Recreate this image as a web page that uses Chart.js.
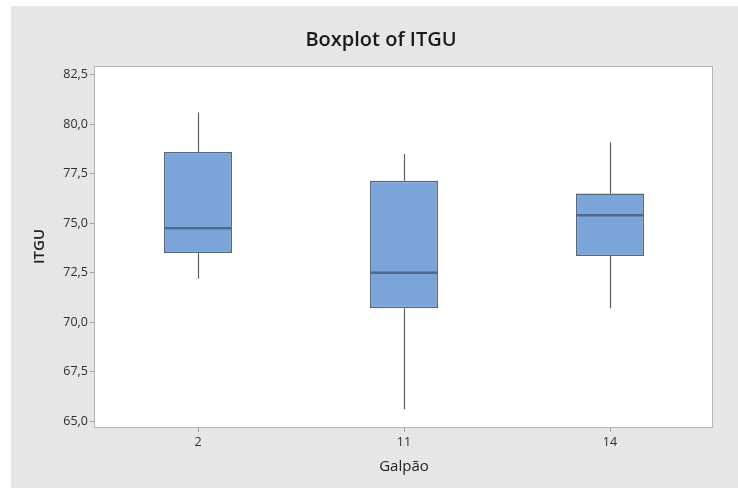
<!DOCTYPE html>
<html>
<head>
<meta charset="utf-8">
<script src="https://cdn.jsdelivr.net/npm/chart.js@4"></script>
<style>
  html, body { margin: 0; padding: 0; background: #ffffff; }
  #wrap { width: 738px; height: 488px; position: relative; }
</style>
</head>
<body>
<div id="wrap"><canvas id="c" width="738" height="488"></canvas></div>
<script>
// ITGU boxplot per galpão (shed)
const categories = ['2', '11', '14'];
const whiskerLow = [72.2, 65.6, 70.7];
const q1Values = [73.5, 70.7, 73.35];
const medianValues = [74.75, 72.5, 75.4];
const q3Values = [78.6, 77.15, 76.5];
const whiskerHigh = [80.6, 78.5, 79.1];
const yTickValues = [65, 67.5, 70, 72.5, 75, 77.5, 80, 82.5];

const boxFill = '#7ba4d9';
const boxEdge = '#56667c';
const medianColor = '#4f6a8e';
const whiskerColor = '#5f5f5f';
const frameColor = '#b4b4b4';

const fmt = v => v.toFixed(1).replace('.', ',');

// Page background: white border strip, gray panel, white data region with frame
const backdrop = {
  id: 'backdrop',
  beforeDraw(chart) {
    const ctx = chart.ctx;
    const a = chart.chartArea;
    ctx.save();
    ctx.fillStyle = '#ffffff';
    ctx.fillRect(0, 0, chart.width, chart.height);
    ctx.fillStyle = '#e6e6e6';
    ctx.fillRect(11, 6, chart.width - 11, chart.height - 6);
    ctx.fillStyle = '#ffffff';
    ctx.fillRect(a.left, a.top, a.right - a.left, a.bottom - a.top);
    ctx.restore();
  },
  afterDraw(chart) {
    const ctx = chart.ctx;
    const a = chart.chartArea;
    ctx.save();
    ctx.strokeStyle = frameColor;
    ctx.lineWidth = 1;
    ctx.strokeRect(Math.round(a.left) - 0.5, Math.round(a.top) + 0.5,
                   Math.round(a.right - a.left), Math.round(a.bottom - a.top));
    ctx.restore();
  }
};

// Whiskers and median lines, positioned through the chart scales
const boxParts = {
  id: 'boxParts',
  afterDatasetsDraw(chart) {
    const ctx = chart.ctx;
    const y = chart.scales.y;
    const meta = chart.getDatasetMeta(0);
    ctx.save();
    meta.data.forEach((bar, i) => {
      const cx = Math.round(bar.x) + 0.5;
      const half = bar.width / 2;
      const yQ1 = y.getPixelForValue(q1Values[i]);
      const yQ3 = y.getPixelForValue(q3Values[i]);
      ctx.strokeStyle = whiskerColor;
      ctx.lineWidth = 1.2;
      ctx.beginPath();
      ctx.moveTo(cx, yQ3);
      ctx.lineTo(cx, y.getPixelForValue(whiskerHigh[i]));
      ctx.moveTo(cx, yQ1);
      ctx.lineTo(cx, y.getPixelForValue(whiskerLow[i]));
      ctx.stroke();
      ctx.strokeStyle = medianColor;
      ctx.lineWidth = 2.5;
      const ym = y.getPixelForValue(medianValues[i]);
      ctx.beginPath();
      ctx.moveTo(bar.x - half, ym);
      ctx.lineTo(bar.x + half, ym);
      ctx.stroke();
    });
    ctx.restore();
  }
};

new Chart(document.getElementById('c'), {
  type: 'bar',
  data: {
    labels: categories,
    datasets: [{
      data: categories.map((_, i) => [q1Values[i], q3Values[i]]),
      backgroundColor: boxFill,
      borderColor: boxEdge,
      borderWidth: 1.5,
      borderSkipped: false,
      categoryPercentage: 1,
      barPercentage: 0.33
    }]
  },
  options: {
    responsive: false,
    animation: false,
    devicePixelRatio: 1,
    layout: { padding: { left: 49, right: 25, top: 0, bottom: 0 } },
    plugins: {
      legend: { display: false },
      tooltip: { enabled: false },
      title: {
        display: true,
        text: 'Boxplot of ITGU',
        color: '#1a1a1a',
        font: { family: 'Open Sans', size: 20, weight: '600' },
        padding: { top: 28, bottom: 14 }
      }
    },
    scales: {
      x: {
        offset: true,
        grid: { display: true, drawOnChartArea: false, drawTicks: true, tickLength: 5, color: '#a0a0a0', offset: false },
        border: { display: false },
        ticks: { color: '#2e2e2e', font: { family: 'Open Sans', size: 12.5 }, padding: 3 },
        title: {
          display: true,
          text: 'Galpão',
          color: '#222222',
          font: { family: 'Open Sans', size: 15 },
          padding: { top: 0, bottom: 12 }
        },
        afterFit(scale) { scale.height = 61; }
      },
      y: {
        min: 64.7,
        max: 82.95,
        afterBuildTicks(scale) { scale.ticks = yTickValues.map(v => ({ value: v })); },
        grid: { display: true, drawOnChartArea: false, drawTicks: true, tickLength: 5, color: '#a0a0a0' },
        border: { display: false },
        ticks: {
          color: '#2e2e2e',
          font: { family: 'Open Sans', size: 12.5 },
          padding: 2,
          callback: v => fmt(v)
        },
        title: {
          display: true,
          text: 'ITGU',
          color: '#222222',
          font: { family: 'Open Sans', size: 15, weight: '600' },
          padding: { top: -18, bottom: 0 }
        },
        afterFit(scale) { scale.width = 46; }
      }
    }
  },
  plugins: [backdrop, boxParts]
});
</script>
</body>
</html>
